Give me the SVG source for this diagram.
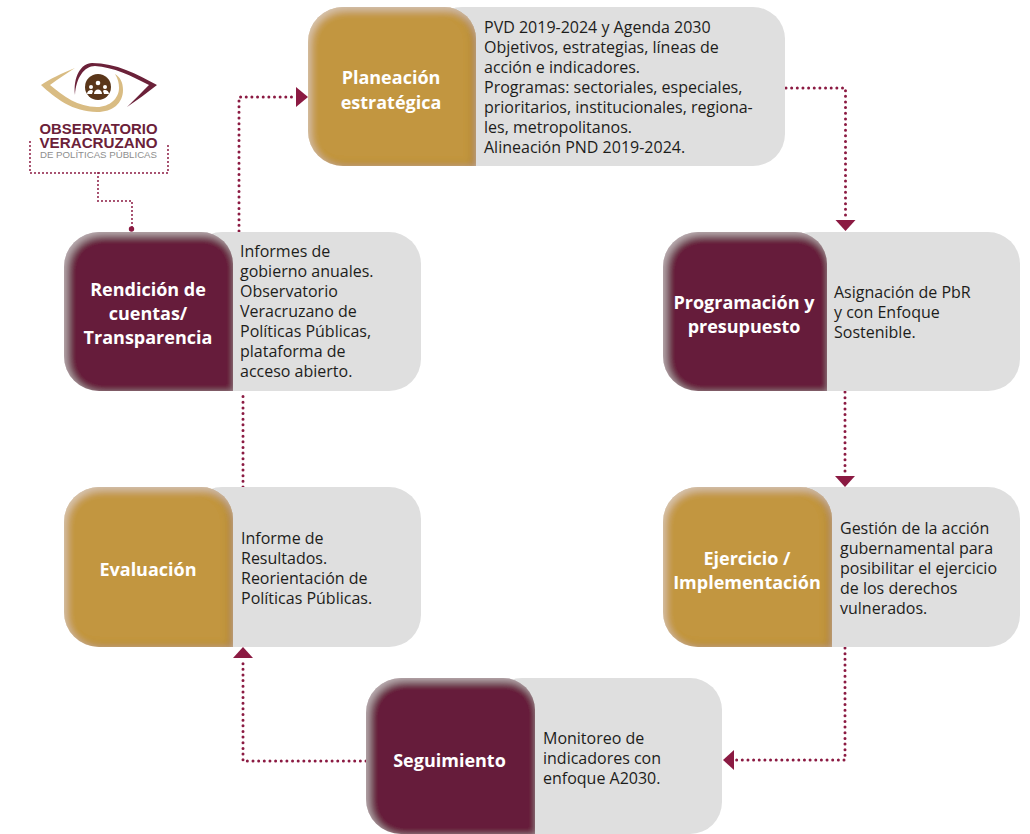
<svg xmlns="http://www.w3.org/2000/svg" width="1030" height="834" viewBox="0 0 1030 834">
<style>
text{font-family:"Open Sans","Noto Sans","DejaVu Sans",sans-serif}
.b{font-size:16px;fill:#1d1d1b}
.h{font-size:18px;font-weight:700;fill:#fff;text-anchor:middle}
.g{fill:#dfdfdf}
.au{fill:#c2963f;filter:url(#bevelAu)}
.ma{fill:#661c3a;filter:url(#bevelMa)}
.c{fill:none;stroke:#8b1a42;stroke-width:3;stroke-linecap:round;stroke-dasharray:0 5.65}
.l{fill:none;stroke:#8b1a42;stroke-width:2;stroke-linecap:round;stroke-dasharray:0 4}
.a{fill:#8b1a42}
.lg{font-family:"Liberation Sans",Arial,sans-serif;font-weight:700;fill:#6b2139;text-anchor:middle}
</style>
<defs>
<filter id="bevelAu" x="-5%" y="-5%" width="110%" height="110%">
<feGaussianBlur in="SourceAlpha" stdDeviation="4" result="b"/>
<feOffset in="b" dx="2" dy="3" result="o"/>
<feFlood flood-color="#fff" flood-opacity=".45"/><feComposite in2="o" operator="out"/><feComposite in2="SourceAlpha" operator="in" result="hi"/>
<feOffset in="b" dx="-3" dy="0" result="o2"/>
<feFlood flood-color="#8a5a1c" flood-opacity=".65"/><feComposite in2="o2" operator="out"/><feComposite in2="SourceAlpha" operator="in" result="lo"/>
<feMerge><feMergeNode in="SourceGraphic"/><feMergeNode in="lo"/><feMergeNode in="hi"/></feMerge>
</filter>
<filter id="bevelMa" x="-5%" y="-5%" width="110%" height="110%">
<feGaussianBlur in="SourceAlpha" stdDeviation="4" result="b"/>
<feOffset in="b" dx="3" dy="3" result="o"/>
<feFlood flood-color="#fff" flood-opacity=".45"/><feComposite in2="o" operator="out"/><feComposite in2="SourceAlpha" operator="in" result="hi"/>
<feMerge><feMergeNode in="SourceGraphic"/><feMergeNode in="hi"/></feMerge>
</filter>
</defs>

<g id="connectors">
<path class="c" d="M786 88H845.500V219"/>
<polygon class="a" points="835.500,220 855.500,220 845.500,231"/>
<path class="c" d="M845 392V475"/>
<polygon class="a" points="835,476 855,476 845,487"/>
<path class="c" d="M845 648V760H736"/>
<polygon class="a" points="734,750 734,770 723,760"/>
<path class="c" d="M366 761H243V662"/>
<polygon class="a" points="233,658 253,658 243,647"/>
<path class="c" d="M243 487V392"/>
<path class="c" d="M239 231V97H295"/>
<polygon class="a" points="296,87 296,107 308,97"/>
<path class="l" d="M30 142V173H168V142"/>
<path class="l" d="M98 173V201H132V228"/>
<circle class="a" cx="131.500" cy="229" r="2.700"/>
</g>

<g id="logo">
<path fill="#d9bc83" d="M75 68C62 73 50 79 41 85C55 98 73 112 97 112C113 112 123 103 123 90C123 82 120 77 115 74C118 79 119 83 119 88C119 98 110 107 97 107C78 107 63 96 50 85C58 79 67 73 75 68Z"/>
<path fill="#6b2139" d="M75 95C73 77 81 63 92 63C116 63 137 74 157 85C147 93 137 100 127 107C135 99 142 92 149 85C132 76 113 67 95 66C84 66 76 78 75 95Z"/>
<circle cx="98" cy="87" r="13" fill="#5a3619"/>
<g fill="#fff"><circle cx="98" cy="83" r="2.300"/><circle cx="91" cy="87" r="2"/><circle cx="105" cy="87" r="2"/><path d="M94 94c0-6 8-6 8 0zM87 94c0-4 5-5 6-3l-1 3zM109 94c0-4-5-5-6-3l1 3z"/></g>
<text class="lg" x="98.500" y="134" font-size="15.500" textLength="118" lengthAdjust="spacingAndGlyphs">OBSERVATORIO</text>
<text class="lg" x="98.500" y="148" font-size="15.500" textLength="118" lengthAdjust="spacingAndGlyphs">VERACRUZANO</text>
<text x="98.500" y="158" font-size="9" text-anchor="middle" fill="#8e8e8e" style="font-family:'Liberation Sans',Arial,sans-serif" textLength="117" lengthAdjust="spacingAndGlyphs">DE POLÍTICAS PÚBLICAS</text>
</g>

<g id="planeacion">
<rect class="g" x="430" y="7" width="355" height="159" rx="32"/>
<path class="au" d="M343 7H444A32 32 0 0 1 476 39V166H343A35 35 0 0 1 308 131V42A35 35 0 0 1 343 7Z"/>
<text class="h"><tspan x="391" y="84">Planeación</tspan><tspan x="391" y="109">estratégica</tspan></text>
<text class="b"><tspan x="484" y="33">PVD 2019-2024 y Agenda 2030</tspan><tspan x="484" y="53">Objetivos, estrategias, líneas de</tspan><tspan x="484" y="73">acción e indicadores.</tspan><tspan x="484" y="93">Programas: sectoriales, especiales,</tspan><tspan x="484" y="113">prioritarios, institucionales, regiona-</tspan><tspan x="484" y="133">les, metropolitanos.</tspan><tspan x="484" y="153">Alineación PND 2019-2024.</tspan></text>
</g>

<g id="programacion">
<rect class="g" x="780" y="232" width="240" height="159" rx="32"/>
<path class="ma" d="M698 232H795A32 32 0 0 1 827 264V391H698A35 35 0 0 1 663 356V267A35 35 0 0 1 698 232Z"/>
<text class="h"><tspan x="744" y="309">Programación y</tspan><tspan x="744" y="333">presupuesto</tspan></text>
<text class="b"><tspan x="834" y="298">Asignación de PbR</tspan><tspan x="834" y="318">y con Enfoque</tspan><tspan x="834" y="338">Sostenible.</tspan></text>
</g>

<g id="ejercicio">
<rect class="g" x="780" y="487" width="240" height="160" rx="32"/>
<path class="au" d="M698 487H800A32 32 0 0 1 832 519V647H698A35 35 0 0 1 663 612V522A35 35 0 0 1 698 487Z"/>
<text class="h"><tspan x="747" y="565">Ejercicio /</tspan><tspan x="747" y="589">Implementación</tspan></text>
<text class="b"><tspan x="840" y="534">Gestión de la acción</tspan><tspan x="840" y="554">gubernamental para</tspan><tspan x="840" y="574">posibilitar el ejercicio</tspan><tspan x="840" y="594">de los derechos</tspan><tspan x="840" y="614">vulnerados.</tspan></text>
</g>

<g id="seguimiento">
<rect class="g" x="490" y="678" width="232" height="156" rx="32"/>
<path class="ma" d="M401 678H503A32 32 0 0 1 535 710V834H401A35 35 0 0 1 366 799V713A35 35 0 0 1 401 678Z"/>
<text class="h" x="449.500" y="767">Seguimiento</text>
<text class="b"><tspan x="543" y="744">Monitoreo de</tspan><tspan x="543" y="764">indicadores con</tspan><tspan x="543" y="784">enfoque A2030.</tspan></text>
</g>

<g id="evaluacion">
<rect class="g" x="190" y="487" width="231" height="160" rx="32"/>
<path class="au" d="M99 487H201A32 32 0 0 1 233 519V647H99A35 35 0 0 1 64 612V522A35 35 0 0 1 99 487Z"/>
<text class="h" x="148" y="576">Evaluación</text>
<text class="b"><tspan x="241" y="544">Informe de</tspan><tspan x="241" y="564">Resultados.</tspan><tspan x="241" y="584">Reorientación de</tspan><tspan x="241" y="604">Políticas Públicas.</tspan></text>
</g>

<g id="rendicion">
<rect class="g" x="190" y="232" width="231" height="159" rx="32"/>
<path class="ma" d="M99 232H201A32 32 0 0 1 233 264V391H99A35 35 0 0 1 64 356V267A35 35 0 0 1 99 232Z"/>
<text class="h"><tspan x="148" y="296">Rendición de</tspan><tspan x="148" y="320">cuentas/</tspan><tspan x="148" y="344">Transparencia</tspan></text>
<text class="b"><tspan x="240" y="257">Informes de</tspan><tspan x="240" y="277">gobierno anuales.</tspan><tspan x="240" y="297">Observatorio</tspan><tspan x="240" y="317">Veracruzano de</tspan><tspan x="240" y="337">Políticas Públicas,</tspan><tspan x="240" y="357">plataforma de</tspan><tspan x="240" y="377">acceso abierto.</tspan></text>
</g>
</svg>
